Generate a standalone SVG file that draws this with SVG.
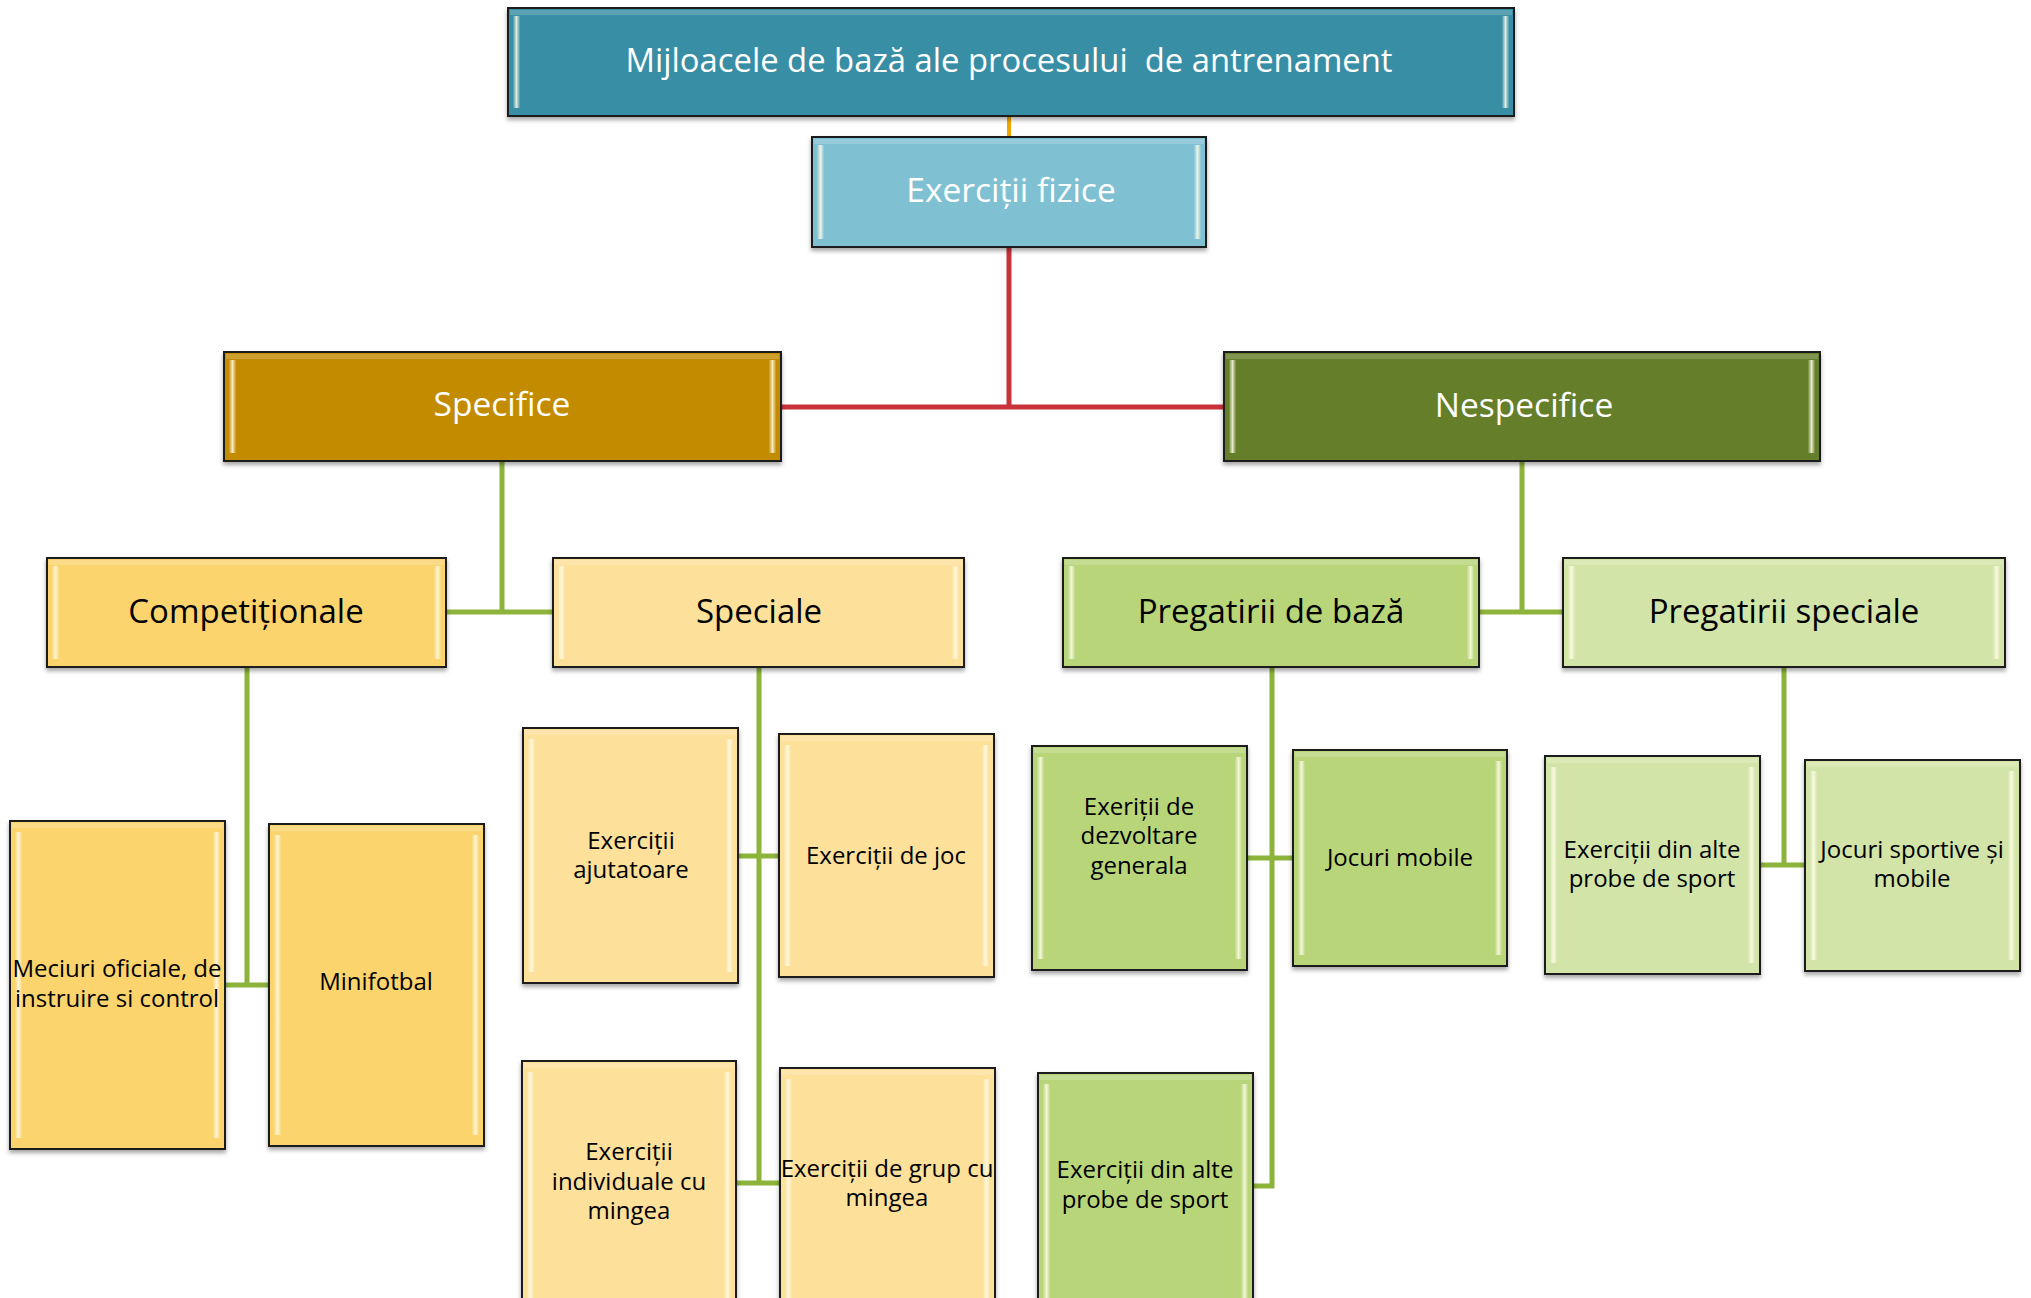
<svg xmlns="http://www.w3.org/2000/svg" width="2031" height="1298" viewBox="0 0 2031 1298">
<style>
  .box{stroke:#1c1c1c;stroke-width:2;filter:url(#sh)}
  .top{fill:#388ea5}.fiz{fill:#7fc1d3}.spec{fill:#c38c00}.nesp{fill:#657e2b}
  .comp{fill:#fcd46e}.spl{fill:#fde09a}.pb{fill:#b8d57a}.ps{fill:#d3e4a8}
  .strip{fill:url(#stripG)}
  .band{fill:#ffffff;opacity:0.18}
  .t1{font-family:"Open Sans","Noto Sans",sans-serif;font-size:32.8px;fill:#ffffff;text-anchor:middle;white-space:pre}
  .t2{font-family:"Open Sans","Noto Sans",sans-serif;font-size:33.5px;fill:#ffffff;text-anchor:middle}
  .t3{font-family:"Open Sans","Noto Sans",sans-serif;font-size:33px;fill:#000000;text-anchor:middle}
  .t4{font-family:"Open Sans","Noto Sans",sans-serif;font-size:24px;fill:#000000;text-anchor:middle}
  .cg{stroke:#8cb33a;stroke-width:5;fill:none}
  .cr{stroke:#c8323a;stroke-width:5;fill:none}
  .co{stroke:#f0a800;stroke-width:4;fill:none}
</style>
<defs>
  <filter id="sh" x="-5%" y="-5%" width="110%" height="115%">
    <feDropShadow dx="0" dy="3" stdDeviation="2" flood-color="#000" flood-opacity="0.35"/>
  </filter>
  <linearGradient id="stripG" x1="0" y1="0" x2="1" y2="0">
    <stop offset="0" stop-color="#fff" stop-opacity="0.05"/>
    <stop offset="0.5" stop-color="#fffbe0" stop-opacity="0.85"/>
    <stop offset="1" stop-color="#fff" stop-opacity="0.05"/>
  </linearGradient>
</defs>
<rect width="2031" height="1298" fill="#ffffff"/>

<g id="connectors">
  <line class="co" x1="1009" y1="116" x2="1009" y2="137"/>
  <polyline class="cr" points="1009,247 1009,407"/>
  <line class="cr" x1="781" y1="407" x2="1224" y2="407"/>
  <polyline class="cg" points="502,461 502,612"/>
  <line class="cg" x1="446" y1="612" x2="553" y2="612"/>
  <polyline class="cg" points="1522,461 1522,612"/>
  <line class="cg" x1="1479" y1="612" x2="1563" y2="612"/>
  <polyline class="cg" points="247,667 247,985"/>
  <line class="cg" x1="225" y1="985" x2="269" y2="985"/>
  <polyline class="cg" points="759,667 759,1183"/>
  <line class="cg" x1="738" y1="856" x2="779" y2="856"/>
  <line class="cg" x1="736" y1="1183" x2="780" y2="1183"/>
  <polyline class="cg" points="1272,667 1272,1186 1253,1186"/>
  <line class="cg" x1="1247" y1="858" x2="1293" y2="858"/>
  <polyline class="cg" points="1784,667 1784,865"/>
  <line class="cg" x1="1760" y1="865" x2="1805" y2="865"/>
</g>

<g id="n-root">
  <rect class="box top" x="508" y="8" width="1006" height="108"/>
  <rect class="band" x="510" y="10" width="1002" height="5"/>
  <rect class="strip" x="513" y="16" width="7" height="92"/><rect class="strip" x="1502" y="16" width="7" height="92"/>
  <text class="t1" x="1009" y="72">Mijloacele de bază ale procesului  de antrenament</text>
</g>
<g id="n-fizice">
  <rect class="box fiz" x="812" y="137" width="394" height="110"/>
  <rect class="band" x="814" y="139" width="390" height="5"/>
  <rect class="strip" x="817" y="145" width="7" height="94"/><rect class="strip" x="1194" y="145" width="7" height="94"/>
  <text class="t2" x="1011" y="202">Exerciții fizice</text>
</g>
<g id="n-specifice">
  <rect class="box spec" x="224" y="352" width="557" height="109"/>
  <rect class="band" x="226" y="354" width="553" height="5"/>
  <rect class="strip" x="229" y="360" width="7" height="93"/><rect class="strip" x="769" y="360" width="7" height="93"/>
  <text class="t2" x="502" y="416">Specifice</text>
</g>
<g id="n-nespecifice">
  <rect class="box nesp" x="1224" y="352" width="596" height="109"/>
  <rect class="band" x="1226" y="354" width="592" height="5"/>
  <rect class="strip" x="1229" y="360" width="7" height="93"/><rect class="strip" x="1808" y="360" width="7" height="93"/>
  <text class="t2" x="1524" y="417">Nespecifice</text>
</g>
<g id="n-competitionale">
  <rect class="box comp" x="47" y="558" width="399" height="109"/>
  <rect class="band" x="49" y="560" width="395" height="5"/>
  <rect class="strip" x="52" y="566" width="7" height="93"/><rect class="strip" x="434" y="566" width="7" height="93"/>
  <text class="t3" x="246" y="623">Competiționale</text>
</g>
<g id="n-speciale">
  <rect class="box spl" x="553" y="558" width="411" height="109"/>
  <rect class="band" x="555" y="560" width="407" height="5"/>
  <rect class="strip" x="558" y="566" width="7" height="93"/><rect class="strip" x="952" y="566" width="7" height="93"/>
  <text class="t3" x="759" y="623">Speciale</text>
</g>
<g id="n-pregbaza">
  <rect class="box pb" x="1063" y="558" width="416" height="109"/>
  <rect class="band" x="1065" y="560" width="412" height="5"/>
  <rect class="strip" x="1068" y="566" width="7" height="93"/><rect class="strip" x="1467" y="566" width="7" height="93"/>
  <text class="t3" x="1271" y="623">Pregatirii de bază</text>
</g>
<g id="n-pregspeciale">
  <rect class="box ps" x="1563" y="558" width="442" height="109"/>
  <rect class="band" x="1565" y="560" width="438" height="5"/>
  <rect class="strip" x="1568" y="566" width="7" height="93"/><rect class="strip" x="1993" y="566" width="7" height="93"/>
  <text class="t3" x="1784" y="623">Pregatirii speciale</text>
</g>

<g id="n-meciuri">
  <rect class="box comp" x="10" y="821" width="215" height="328"/>
  <rect class="band" x="12" y="823" width="211" height="5"/>
  <rect class="strip" x="15" y="832" width="7" height="306"/><rect class="strip" x="213" y="832" width="7" height="306"/>
  <text class="t4" x="117" y="977">Meciuri oficiale, de</text>
  <text class="t4" x="117" y="1007">instruire si control</text>
</g>
<g id="n-minifotbal">
  <rect class="box comp" x="269" y="824" width="215" height="322"/>
  <rect class="band" x="271" y="826" width="211" height="5"/>
  <rect class="strip" x="274" y="835" width="7" height="300"/><rect class="strip" x="472" y="835" width="7" height="300"/>
  <text class="t4" x="376" y="990">Minifotbal</text>
</g>
<g id="n-ajutatoare">
  <rect class="box spl" x="523" y="728" width="215" height="255"/>
  <rect class="band" x="525" y="730" width="211" height="5"/>
  <rect class="strip" x="528" y="739" width="7" height="233"/><rect class="strip" x="726" y="739" width="7" height="233"/>
  <text class="t4" x="631" y="849">Exerciții</text>
  <text class="t4" x="631" y="878">ajutatoare</text>
</g>
<g id="n-joc">
  <rect class="box spl" x="779" y="734" width="215" height="243"/>
  <rect class="band" x="781" y="736" width="211" height="5"/>
  <rect class="strip" x="784" y="745" width="7" height="221"/><rect class="strip" x="982" y="745" width="7" height="221"/>
  <text class="t4" x="886" y="864">Exerciții de joc</text>
</g>
<g id="n-individuale">
  <rect class="box spl" x="522" y="1061" width="214" height="258"/>
  <rect class="band" x="524" y="1063" width="210" height="5"/>
  <rect class="strip" x="527" y="1072" width="7" height="236"/><rect class="strip" x="724" y="1072" width="7" height="236"/>
  <text class="t4" x="629" y="1160">Exerciții</text>
  <text class="t4" x="629" y="1190">individuale cu</text>
  <text class="t4" x="629" y="1219">mingea</text>
</g>
<g id="n-grup">
  <rect class="box spl" x="780" y="1068" width="215" height="258"/>
  <rect class="band" x="782" y="1070" width="211" height="5"/>
  <rect class="strip" x="785" y="1079" width="7" height="236"/><rect class="strip" x="983" y="1079" width="7" height="236"/>
  <text class="t4" x="887" y="1177">Exerciții de grup cu</text>
  <text class="t4" x="887" y="1206">mingea</text>
</g>
<g id="n-dezvoltare">
  <rect class="box pb" x="1032" y="746" width="215" height="224"/>
  <rect class="band" x="1034" y="748" width="211" height="5"/>
  <rect class="strip" x="1037" y="757" width="7" height="202"/><rect class="strip" x="1235" y="757" width="7" height="202"/>
  <text class="t4" x="1139" y="815">Exeriții de</text>
  <text class="t4" x="1139" y="844">dezvoltare</text>
  <text class="t4" x="1139" y="874">generala</text>
</g>
<g id="n-jocurimobile">
  <rect class="box pb" x="1293" y="750" width="214" height="216"/>
  <rect class="band" x="1295" y="752" width="210" height="5"/>
  <rect class="strip" x="1298" y="761" width="7" height="194"/><rect class="strip" x="1495" y="761" width="7" height="194"/>
  <text class="t4" x="1400" y="866">Jocuri mobile</text>
</g>
<g id="n-dinalte1">
  <rect class="box pb" x="1038" y="1073" width="215" height="250"/>
  <rect class="band" x="1040" y="1075" width="211" height="5"/>
  <rect class="strip" x="1043" y="1084" width="7" height="228"/><rect class="strip" x="1241" y="1084" width="7" height="228"/>
  <text class="t4" x="1145" y="1178">Exerciții din alte</text>
  <text class="t4" x="1145" y="1208">probe de sport</text>
</g>
<g id="n-dinalte2">
  <rect class="box ps" x="1545" y="756" width="215" height="218"/>
  <rect class="band" x="1547" y="758" width="211" height="5"/>
  <rect class="strip" x="1550" y="767" width="7" height="196"/><rect class="strip" x="1748" y="767" width="7" height="196"/>
  <text class="t4" x="1652" y="858">Exerciții din alte</text>
  <text class="t4" x="1652" y="887">probe de sport</text>
</g>
<g id="n-jocurisportive">
  <rect class="box ps" x="1805" y="760" width="215" height="211"/>
  <rect class="band" x="1807" y="762" width="211" height="5"/>
  <rect class="strip" x="1810" y="771" width="7" height="189"/><rect class="strip" x="2008" y="771" width="7" height="189"/>
  <text class="t4" x="1912" y="858">Jocuri sportive și</text>
  <text class="t4" x="1912" y="887">mobile</text>
</g>
</svg>
